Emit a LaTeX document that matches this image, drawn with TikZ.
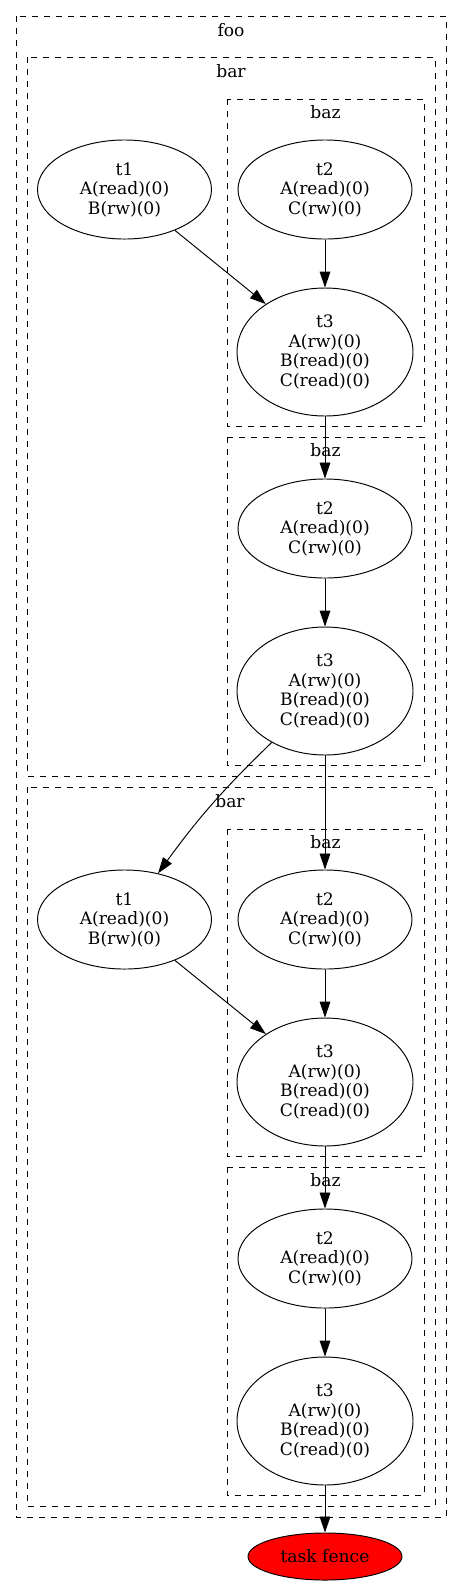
\documentclass[tikz,border=0pt]{standalone}
\usepackage{fontspec}
\setmainfont{DejaVu Serif}
\usetikzlibrary{shapes.geometric, arrows.meta}

\tikzset{
  task/.style={draw, ellipse, align=center, inner sep=0pt, line width=0.6pt,
    minimum width=108.75pt, minimum height=61.9pt},
  bigtask/.style={task, minimum width=110pt, minimum height=80pt},
  cluster/.style={draw, line width=0.6pt, dash pattern=on 3.75pt off 3.75pt},
  clabel/.style={anchor=base, inner sep=0pt},
  dep/.style={line width=0.6pt, -{Triangle[length=10pt,width=6.7pt]}}
}

\begin{document}
\begin{tikzpicture}[x=0.625pt, y=-0.625pt, font=\fontsize{10.7pt}{12.2pt}\selectfont]
\useasboundingbox (0,0) rectangle (461,1586);

% Outer cluster
\draw[cluster] (16,16) rectangle (446,1517);
\node[clabel] (foo) at (231,36.5) {foo};

% First bar
\draw[cluster] (27,57) rectangle (435,776);
\node[clabel] (bar1) at (231,77.5) {bar};
\draw[cluster] (227,99) rectangle (424,426);
\node[clabel] (baz1) at (325.5,118.5) {baz};
\draw[cluster] (227,437) rectangle (424,765);
\node[clabel] (baz2) at (325.5,456.5) {baz};

\node[task] (t1a) at (124.5,189.5) {t1\\A(read)(0)\\B(rw)(0)};
\node[task] (t2a) at (325,189.5) {t2\\A(read)(0)\\C(rw)(0)};
\node[bigtask] (t3a) at (325,352) {t3\\A(rw)(0)\\B(read)(0)\\C(read)(0)};
\node[task] (t2b) at (325,528.5) {t2\\A(read)(0)\\C(rw)(0)};
\node[bigtask] (t3b) at (325,691) {t3\\A(rw)(0)\\B(read)(0)\\C(read)(0)};

% Second bar
\draw[cluster] (27,787) rectangle (435,1506);
\node[clabel] (bar2) at (230,807.5) {bar};
\draw[cluster] (227,829) rectangle (424,1156);
\node[clabel] (baz3) at (325.5,848.5) {baz};
\draw[cluster] (227,1167) rectangle (424,1495);
\node[clabel] (baz4) at (325.5,1186.5) {baz};

\node[task] (t1c) at (124.5,919.5) {t1\\A(read)(0)\\B(rw)(0)};
\node[task] (t2c) at (325,919.5) {t2\\A(read)(0)\\C(rw)(0)};
\node[bigtask] (t3c) at (325,1082) {t3\\A(rw)(0)\\B(read)(0)\\C(read)(0)};
\node[task] (t2d) at (325,1258.5) {t2\\A(read)(0)\\C(rw)(0)};
\node[bigtask] (t3d) at (325,1421) {t3\\A(rw)(0)\\B(read)(0)\\C(read)(0)};

% Fence
\node[task, fill=red, minimum width=96.25pt, minimum height=29.4pt] (fence) at (325,1556.5) {task fence};

% Dependencies
\draw[dep] (t1a) -- (t3a);
\draw[dep] (t2a) -- (t3a);
\draw[dep] (t3a) -- (t2b);
\draw[dep] (t2b) -- (t3b);
\draw[dep] (t3b) to[out=-136, in=54] (t1c);
\draw[dep] (t3b) -- (t2c);
\draw[dep] (t1c) -- (t3c);
\draw[dep] (t2c) -- (t3c);
\draw[dep] (t3c) -- (t2d);
\draw[dep] (t2d) -- (t3d);
\draw[dep] (t3d) -- (fence);

\end{tikzpicture}
\end{document}
